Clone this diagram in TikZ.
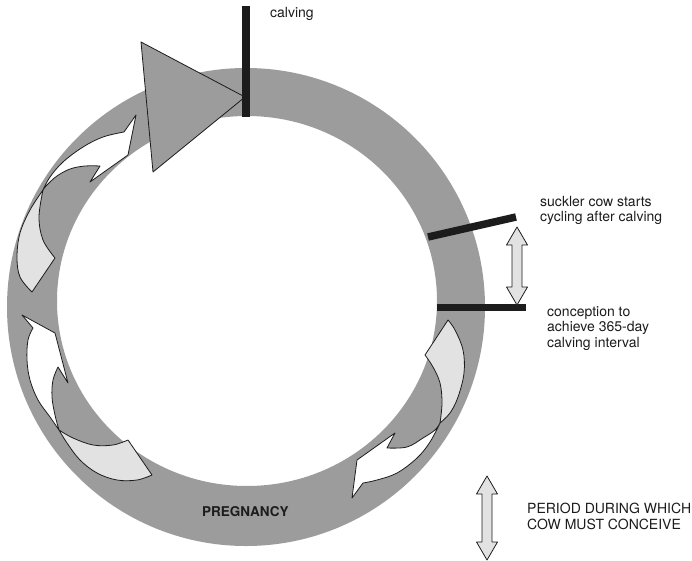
\documentclass[tikz,border=0pt]{standalone}
\usepackage{fontspec}
\setmainfont{TeX Gyre Heros}
\definecolor{ringgray}{RGB}{156,156,156}
\definecolor{palegray}{RGB}{226,226,226}
\definecolor{inkdark}{RGB}{28,28,28}
\newcommand\vdoublearrow[3]{% x, top y, bottom y
  \draw[dblarrow] (#1,#2) -- (#1+10.5,#2+18) -- (#1+5,#2+18) -- (#1+5,#3-18)
    -- (#1+10.5,#3-18) -- (#1,#3) -- (#1-10.5,#3-18) -- (#1-5,#3-18)
    -- (#1-5,#2+18) -- (#1-10.5,#2+18) -- cycle;}
\begin{document}
\begin{tikzpicture}[x=1pt,y=-1pt,
  outline/.style={draw=inkdark,line width=0.8pt,line join=round},
  backface/.style={outline,fill=palegray},
  frontface/.style={outline,fill=white},
  dblarrow/.style={outline,fill=palegray},
  marker/.style={draw=inkdark,line width=7.5pt},
  lbl/.style={font=\fontsize{14}{15.5}\selectfont,text=inkdark,inner sep=0pt,align=left},
  smoothcurve/.style={smooth,tension=0.6}]
\useasboundingbox (0,0) rectangle (692,561);
\fill[white] (0,0) rectangle (692,561);

% the yearly cycle band
\fill[ringgray,even odd rule] (246,307) circle[radius=239]
  (247,301) ellipse[x radius=190,y radius=185];

% pregnancy wedge ending at calving
\draw[outline,fill=ringgray] (141,42) -- (245,97) -- (153,172) -- cycle;

% curved arrow, upper left
\coordinate (j1) at (43,190);
\draw[backface] (j1) -- plot[smoothcurve] coordinates {(43,190) (30,210) (20,233) (17,257) (20,277) (32,292)}
  -- (55,258) -- plot[smoothcurve] coordinates {(55,258) (43,240) (39,217) (43,190)} -- cycle;
\draw[frontface] (j1) -- plot[smoothcurve] coordinates {(43,190) (50,177) (63,162) (83,147) (103,137) (124,132)}
  -- (136,115) -- (128,155) -- (90,182) -- (100,166)
  -- plot[smoothcurve] coordinates {(100,166) (85,166) (70,169) (57,176) (47,185) (43,190)} -- cycle;

% curved arrow, lower left
\coordinate (j2) at (59,430);
\draw[backface] (j2) -- plot[smoothcurve] coordinates {(59,430) (73,438) (93,445) (113,445) (128,440)}
  -- (152,475) -- plot[smoothcurve] coordinates {(152,475) (137,480) (117,480) (97,473) (80,460) (67,443) (59,430)} -- cycle;
\draw[frontface] (j2) -- plot[smoothcurve] coordinates {(59,430) (50,417) (38,400) (30,380) (27,360) (28,340) (33,328)}
  -- (22,315) -- (55,333) -- (68,383) -- (58,367)
  -- plot[smoothcurve] coordinates {(58,367) (53,380) (52,397) (55,415) (59,430)} -- cycle;

% curved arrow, right
\coordinate (j3) at (440,423);
\draw[backface] (j3) -- plot[smoothcurve] coordinates {(440,423) (450,413) (458,397) (464,373) (463,350) (455,330) (448,320)}
  -- (425,355) -- plot[smoothcurve] coordinates {(425,355) (433,367) (440,383) (442,403) (440,423)} -- cycle;
\draw[frontface] (j3) -- plot[smoothcurve] coordinates {(440,423) (430,442) (417,458) (397,473) (377,480) (363,483)}
  -- (352,498) -- (357,460) -- (395,433) -- (387,448)
  -- plot[smoothcurve] coordinates {(387,448) (407,447) (423,438) (435,430) (440,423)} -- cycle;

% event markers
\coordinate (calvtop) at (246,6);
\coordinate (calvbot) at (246,117);
\draw[marker,line width=8pt] (calvbot) -- (calvtop);
\coordinate (cycin) at (428,237);
\coordinate (cycout) at (516,217);
\draw[marker] (cycin) -- (cycout);
\coordinate (conin) at (437,307);
\coordinate (conout) at (526,307);
\draw[marker,line width=7pt] (conin) -- (conout);

% intervals
\vdoublearrow{517}{227}{305}
\vdoublearrow{487}{476}{560}

% labels (base anchor of a multi-line label sits on its last line)
\node[lbl,anchor=base west] (calving) at (270,18) {calving};
\node[lbl,anchor=base west] (cycling) at (540,222) {suckler cow starts\\cycling after calving};
\node[lbl,anchor=base west] (conception) at (547,347) {conception to\\achieve 365-day\\calving interval};
\node[lbl,anchor=base west] (period) at (527,529) {PERIOD DURING WHICH\\COW MUST CONCEIVE};
\node[font=\fontsize{13.5}{15}\selectfont\bfseries,text=inkdark,inner sep=0pt,anchor=base west] (pregnancy) at (202,516) {PREGNANCY};
\end{tikzpicture}
\end{document}
